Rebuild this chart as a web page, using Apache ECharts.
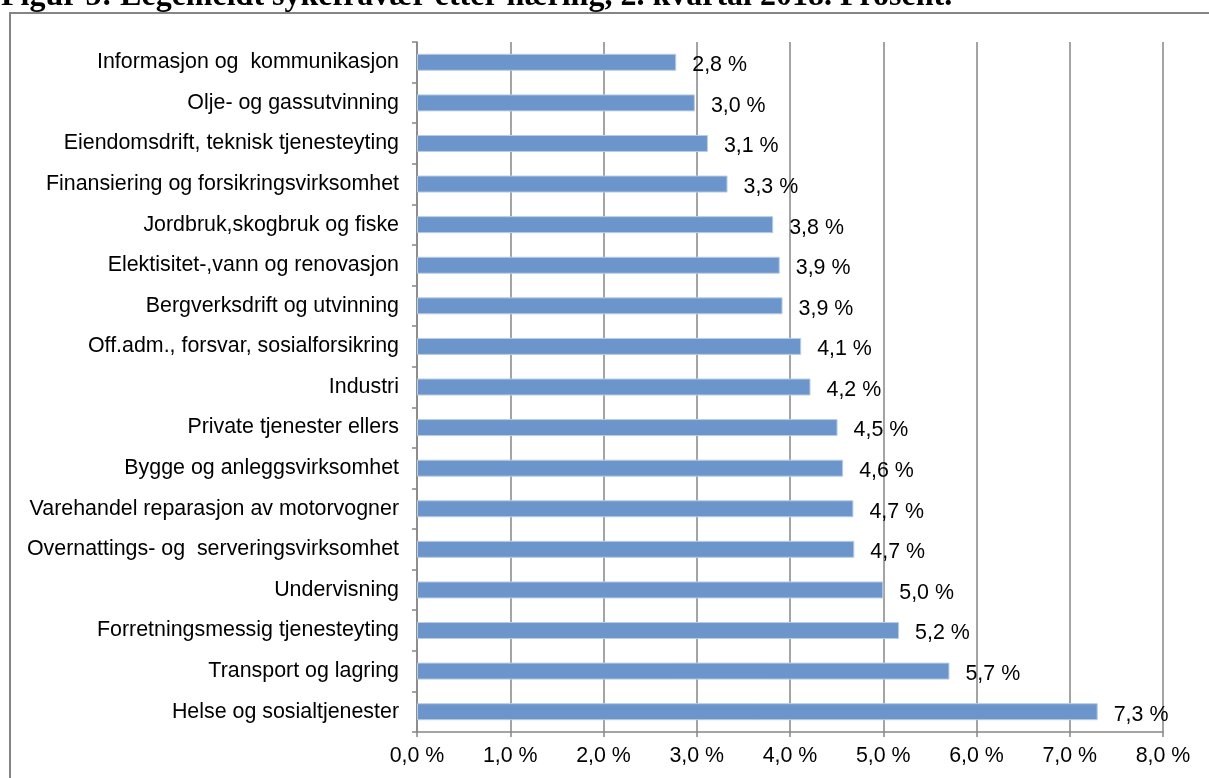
<!DOCTYPE html>
<html>
<head>
<meta charset="utf-8">
<script src="https://cdn.jsdelivr.net/npm/echarts@6/dist/echarts.min.js"></script>
<style>
html,body{margin:0;padding:0;background:#fff;}
#chart{width:1209px;height:778px;}
</style>
</head>
<body>
<div id="chart"></div>
<script>
const titleText = 'Figur 5: Legemeldt sykefravær etter næring, 2. kvartal 2018. Prosent.';
const categories = [
  'Informasjon og  kommunikasjon',
  'Olje- og gassutvinning',
  'Eiendomsdrift, teknisk tjenesteyting',
  'Finansiering og forsikringsvirksomhet',
  'Jordbruk,skogbruk og fiske',
  'Elektisitet-,vann og renovasjon',
  'Bergverksdrift og utvinning',
  'Off.adm., forsvar, sosialforsikring',
  'Industri',
  'Private tjenester ellers',
  'Bygge og anleggsvirksomhet',
  'Varehandel reparasjon av motorvogner',
  'Overnattings- og  serveringsvirksomhet',
  'Undervisning',
  'Forretningsmessig tjenesteyting',
  'Transport og lagring',
  'Helse og sosialtjenester'
];
const values = [2.78, 2.98, 3.12, 3.33, 3.82, 3.89, 3.92, 4.12, 4.22, 4.51, 4.57, 4.68, 4.69, 5.0, 5.17, 5.71, 7.3];
const xTicks = [0, 1, 2, 3, 4, 5, 6, 7, 8];

const fmt = v => v.toFixed(1).replace('.', ',') + ' %';
const FONT = 'Arial, "Liberation Sans", sans-serif';
const FS = 21.4;
const GRAY = '#868686';

const chart = echarts.init(document.getElementById('chart'), null, {renderer: 'canvas'});
chart.setOption({
  animation: false,
  backgroundColor: '#fff',
  graphic: [
    {type: 'rect', z: -10, shape: {x: 10, y: 13, width: 1300, height: 900},
     style: {fill: 'none', stroke: '#858585', lineWidth: 2}},
    {type: 'text', x: 1, y: -3, z: 10,
     style: {text: titleText, font: 'bold 32px "Liberation Serif", "Times New Roman", serif',
             fill: '#000', verticalAlign: 'middle', align: 'left'}}
  ],
  grid: {left: 417, right: 46, top: 42, bottom: 46, containLabel: false},
  xAxis: {
    type: 'value', min: xTicks[0], max: xTicks[xTicks.length - 1], interval: 1,
    axisLine: {show: true, lineStyle: {color: GRAY, width: 1.5}},
    axisTick: {show: true, length: 5, lineStyle: {color: GRAY, width: 1.5}},
    splitLine: {show: true, lineStyle: {color: GRAY, width: 1.5}},
    axisLabel: {formatter: v => fmt(v), fontSize: FS, fontFamily: FONT, color: '#000', margin: 14}
  },
  yAxis: {
    type: 'category', data: categories, inverse: true,
    axisLine: {show: true, lineStyle: {color: GRAY, width: 1.5}},
    axisTick: {show: true, length: 5, lineStyle: {color: GRAY, width: 1.5}},
    axisLabel: {fontSize: FS, fontFamily: FONT, color: '#000', margin: 18}
  },
  series: [{
    type: 'bar', data: values, barWidth: 17,
    itemStyle: {color: '#6C96CB', borderColor: '#B9CDE5', borderWidth: 1},
    label: {show: true, position: 'right', distance: 16, offset: [0, 3],
            formatter: p => fmt(p.value), fontSize: FS, fontFamily: FONT, color: '#000'}
  }]
});
</script>
</body>
</html>
